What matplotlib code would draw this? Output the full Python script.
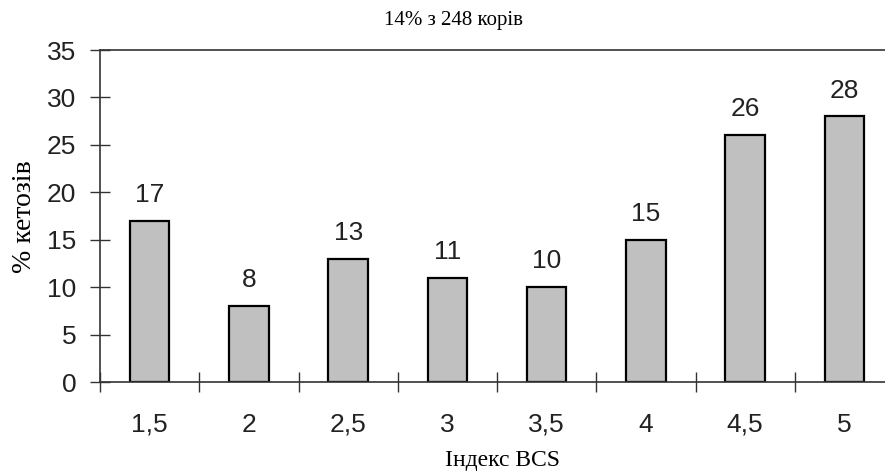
import numpy as np
import matplotlib.pyplot as plt

# дані
categories = ['1,5', '2', '2,5', '3', '3,5', '4', '4,5', '5']
values = [17, 8, 13, 11, 10, 15, 26, 28]
y_ticks = [0, 5, 10, 15, 20, 25, 30, 35]

serif = ['Liberation Serif', 'DejaVu Serif']
sans = ['Liberation Sans', 'DejaVu Sans']

fig = plt.figure(figsize=(8.85, 4.73), dpi=100)
ax = fig.add_axes([100 / 885, 91 / 473, 794 / 885, 332 / 473])

x = np.arange(len(categories))
bars = ax.bar(x, values, width=0.4, color='#c0c0c0', edgecolor='black', linewidth=1.6)
ax.bar_label(bars, labels=[str(v) for v in values], padding=10,
             fontsize=19, family=sans, color='#222222')

ax.set_xlim(-0.5, len(categories) - 0.5)
ax.set_ylim(0, 35)
ax.set_yticks(y_ticks)
ax.set_yticklabels([str(t) for t in y_ticks], fontsize=19, family=sans, color='#222222')
ax.set_xticks(x)
ax.set_xticklabels(categories, fontsize=19, family=sans, color='#222222')
ax.set_xticks(np.arange(-0.5, len(categories) - 1), minor=True)

ax.tick_params(axis='x', which='major', length=0, pad=22)
ax.tick_params(axis='x', which='minor', direction='inout', length=14, width=1, color='#333333')
ax.tick_params(axis='y', direction='inout', length=14, width=1, color='#333333', pad=10)

for side in ['left', 'bottom', 'top']:
    ax.spines[side].set_color('#333333')
    ax.spines[side].set_linewidth(1.2)
ax.spines['right'].set_visible(False)

fig.text(454 / 885, 1 - 20 / 473, '14% з 248 корів', ha='center', va='center',
         fontsize=15, family=serif)
fig.text(503 / 885, 1 - 460 / 473, 'Індекс BCS', ha='center', va='center',
         fontsize=17, family=serif)
fig.text(25 / 885, 1 - 217 / 473, '% кетозів', ha='center', va='center',
         rotation=90, fontsize=20, family=serif)

fig.savefig('out.png', dpi=100)
